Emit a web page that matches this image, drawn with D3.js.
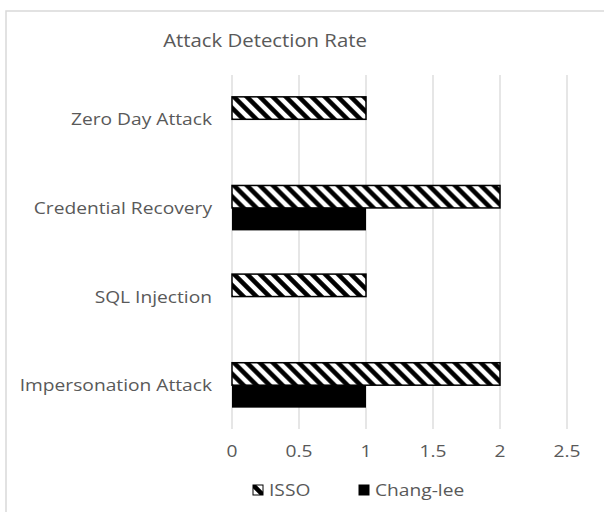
<!DOCTYPE html>
<html>
<head>
<meta charset="utf-8">
<script src="https://cdn.jsdelivr.net/npm/d3@7"></script>
<style>
  body { margin: 0; background: #fff; }
  text { font-family: "Open Sans", "Noto Sans", sans-serif; fill: #595959; }
</style>
</head>
<body>
<svg id="svg" width="604" height="512"></svg>
<script>
const categories = ['Impersonation Attack', 'SQL Injection', 'Credential Recovery', 'Zero Day Attack']
const seriesNames = ['ISSO', 'Chang-lee']
const issoValues = [2, 1, 2, 1]
const changLeeValues = [1, 0, 1, 0]
const xTicks = [0, 0.5, 1, 1.5, 2, 2.5]

const svg = d3.select('#svg')

// hatch pattern for ISSO
const defs = svg.append('defs')
const pat = defs.append('pattern')
  .attr('id', 'hatch')
  .attr('patternUnits', 'userSpaceOnUse')
  .attr('width', 13)
  .attr('height', 13)
pat.append('rect').attr('width', 13).attr('height', 13).attr('fill', '#fff')
pat.append('path')
  .attr('d', 'M-4,-4 L17,17 M-4,9 L4,17 M9,-4 L17,4')
  .attr('stroke', '#000')
  .attr('stroke-width', 4.6)

// text in the original is a bit stretched sideways
const sx = 1.2

// chart border
svg.append('rect')
  .attr('x', 6).attr('y', 11)
  .attr('width', 620).attr('height', 520)
  .attr('fill', 'none')
  .attr('stroke', '#d9d9d9')
  .attr('stroke-width', 1.5)

svg.append('text')
  .attr('transform', 'translate(265,47) scale(1.13,1)')
  .attr('text-anchor', 'middle')
  .style('font-size', '18px')
  .text('Attack Detection Rate')

const x = d3.scaleLinear().domain([0, 2.5]).range([232, 567])
const y = d3.scaleBand().domain(categories.slice().reverse()).range([75, 429.5])
  .paddingInner(0.493).paddingOuter(0.2465)
const ySub = d3.scaleBand().domain(seriesNames).range([0, y.bandwidth()])

// gridlines
svg.append('g').selectAll('line')
  .data(xTicks)
  .enter()
  .append('line')
  .attr('x1', d => x(d)).attr('x2', d => x(d))
  .attr('y1', 75).attr('y2', 429)
  .attr('stroke', '#d9d9d9')
  .attr('stroke-width', 1.3)

// x tick labels
svg.append('g').selectAll('text')
  .data(xTicks)
  .enter()
  .append('text')
  .attr('transform', d => `translate(${x(d)},457) scale(${sx},1)`)
  .attr('text-anchor', 'middle')
  .style('font-size', '16px')
  .text(d => d)

// category labels
svg.append('g').selectAll('text')
  .data(categories)
  .enter()
  .append('text')
  .attr('transform', d => `translate(212,${y(d) + y.bandwidth() / 2 + 6}) scale(${sx},1)`)
  .attr('text-anchor', 'end')
  .style('font-size', '16px')
  .text(d => d)

// bars
const rows = categories.map((c, i) => ({ cat: c, values: [issoValues[i], changLeeValues[i]] }))
const groups = svg.append('g').selectAll('g')
  .data(rows)
  .enter()
  .append('g')
  .attr('transform', d => `translate(0,${y(d.cat)})`)

groups.selectAll('rect')
  .data(d => d.values.map((v, j) => ({ series: seriesNames[j], value: v })).filter(e => e.value > 0))
  .enter()
  .append('rect')
  .attr('x', x(0))
  .attr('y', d => ySub(d.series))
  .attr('width', d => x(d.value) - x(0))
  .attr('height', ySub.bandwidth())
  .attr('fill', d => d.series === 'ISSO' ? 'url(#hatch)' : '#000')
  .attr('stroke', '#000')
  .attr('stroke-width', d => d.series === 'ISSO' ? 1.5 : 0)

// legend
const legendItems = [
  { name: 'ISSO', x: 253, fill: 'url(#hatch)' },
  { name: 'Chang-lee', x: 359, fill: '#000' }
]
const leg = svg.append('g').selectAll('g')
  .data(legendItems)
  .enter()
  .append('g')
  .attr('transform', d => `translate(${d.x},485)`)
leg.append('rect')
  .attr('width', 10).attr('height', 10)
  .attr('fill', d => d.fill)
  .attr('stroke', '#000')
  .attr('stroke-width', 1)
leg.append('text')
  .attr('transform', `translate(16,11) scale(${sx},1)`)
  .style('font-size', '16px')
  .text(d => d.name)
</script>
</body>
</html>
